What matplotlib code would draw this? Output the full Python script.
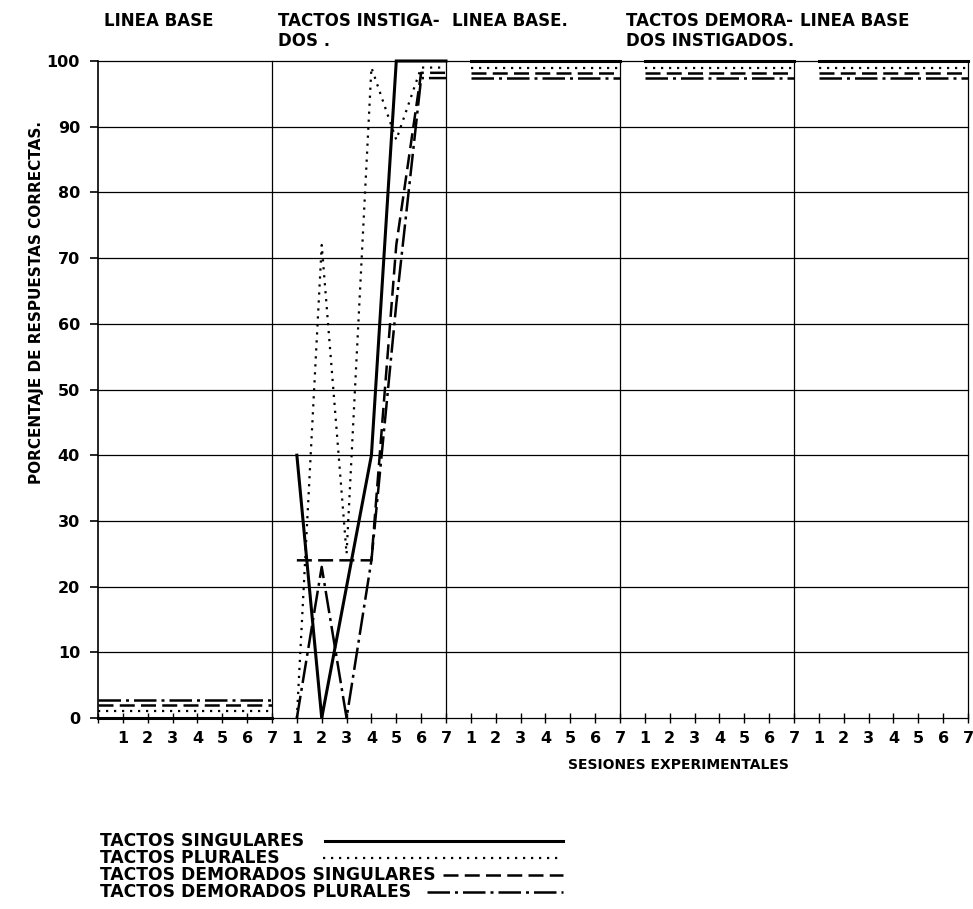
import numpy as np
import matplotlib
matplotlib.use('Agg')
import matplotlib.pyplot as plt
from matplotlib.lines import Line2D

plt.rcParams['font.family'] = ['DejaVu Sans']
plt.rcParams['font.weight'] = 'bold'

# ---- data ----
PHASE_TITLES = ['LINEA BASE', 'TACTOS INSTIGA-\nDOS .', 'LINEA BASE.',
                'TACTOS DEMORA-\nDOS INSTIGADOS.', 'LINEA BASE']
SESSIONS = ['1', '2', '3', '4', '5', '6', '7']
Y_TICKS = [0, 10, 20, 30, 40, 50, 60, 70, 80, 90, 100]

# one list per phase; the first baseline starts at the axis (8 points)
singulares = [
    [0, 0, 0, 0, 0, 0, 0, 0],
    [40, 0, 20, 40, 100, 100, 100],
    [100, 100, 100, 100, 100, 100, 100],
    [100, 100, 100, 100, 100, 100, 100],
    [100, 100, 100, 100, 100, 100, 100],
]
plurales = [
    [1, 1, 1, 1, 1, 1, 1, 1],
    [0, 72, 25, 99, 88, 99, 99],
    [99, 99, 99, 99, 99, 99, 99],
    [99, 99, 99, 99, 99, 99, 99],
    [99, 99, 99, 99, 99, 99, 99],
]
dem_singulares = [
    [2, 2, 2, 2, 2, 2, 2, 2],
    [24, 24, 24, 24, 72, 98.2, 98.2],
    [98.2, 98.2, 98.2, 98.2, 98.2, 98.2, 98.2],
    [98.2, 98.2, 98.2, 98.2, 98.2, 98.2, 98.2],
    [98.2, 98.2, 98.2, 98.2, 98.2, 98.2, 98.2],
]
dem_plurales = [
    [2.8, 2.8, 2.8, 2.8, 2.8, 2.8, 2.8, 2.8],
    [0, 23, 0, 24, 63, 97.4, 97.4],
    [97.4, 97.4, 97.4, 97.4, 97.4, 97.4, 97.4],
    [97.4, 97.4, 97.4, 97.4, 97.4, 97.4, 97.4],
    [97.4, 97.4, 97.4, 97.4, 97.4, 97.4, 97.4],
]

SERIES = [
    ('TACTOS SINGULARES', singulares, '-', 2.2),
    ('TACTOS PLURALES', plurales, (0, (1, 2.6)), 1.6),
    ('TACTOS DEMORADOS SINGULARES', dem_singulares, (0, (6, 2.5)), 1.8),
    ('TACTOS DEMORADOS PLURALES', dem_plurales, (0, (9, 2, 1.2, 2)), 1.8),
]

W, H = 973, 909
N_SES = len(SESSIONS)
N_PH = len(PHASE_TITLES)

fig = plt.figure(figsize=(W / 100, H / 100), dpi=100)
ax = fig.add_axes([98 / W, 1 - 718 / H, (968 - 98) / W, (718 - 61) / H])
ax.set_xlim(0, N_SES * N_PH)
ax.set_ylim(0, 100)

for name, sp in ax.spines.items():
    sp.set_visible(name == 'left')
ax.spines['left'].set_linewidth(1.2)

# grid lines and phase separators
for v in Y_TICKS:
    ax.axhline(v, color='black', lw=0.9, clip_on=False, zorder=1)
for p in range(1, N_PH + 1):
    ax.axvline(p * N_SES, color='black', lw=0.9, clip_on=False, zorder=1)

ax.set_yticks(Y_TICKS)
ax.tick_params(axis='y', length=6, width=1.2, pad=7, labelsize=11.5)
ax.set_xticks(np.arange(N_SES * N_PH + 1))
ax.set_xticklabels([''] + SESSIONS * N_PH)
ax.tick_params(axis='x', direction='inout', length=7, width=1.0, pad=6,
               labelsize=11.5)

# data lines, phase by phase
for label, phases, ls, lw in SERIES:
    for p, vals in enumerate(phases):
        start = p * N_SES
        x = np.arange(len(vals)) + start + (N_SES + 1 - len(vals))
        ax.plot(x, vals, color='black', linestyle=ls, lw=lw,
                clip_on=False, zorder=3, solid_joinstyle='miter')

# phase titles
xt = ax.get_xaxis_transform()
for p, title in enumerate(PHASE_TITLES):
    ax.text(p * N_SES + 0.25, 1.075, title, transform=xt, ha='left',
            va='top', fontsize=12, fontweight='bold', linespacing=1.15)

fig.text(37 / W, 1 - 302 / H, 'PORCENTAJE DE RESPUESTAS CORRECTAS.',
         rotation=90, ha='center', va='center', fontsize=11,
         fontweight='bold')
fig.text(678 / W, 1 - 765 / H, 'SESIONES EXPERIMENTALES', ha='center',
         va='center', fontsize=10, fontweight='bold')

# hand-drawn style legend at the bottom
leg_y = [841, 858, 875, 892]
leg_x0 = [325, 323, 443, 427]
for (label, _, ls, lw), y, x0 in zip(SERIES, leg_y, leg_x0):
    fig.text(100 / W, 1 - y / H, label, ha='left', va='center',
             fontsize=12.3, fontweight='bold')
    fig.add_artist(Line2D([x0 / W, 563 / W], [1 - y / H, 1 - y / H],
                          color='black', linestyle=ls, lw=lw))

fig.savefig('out.png', dpi=100)
